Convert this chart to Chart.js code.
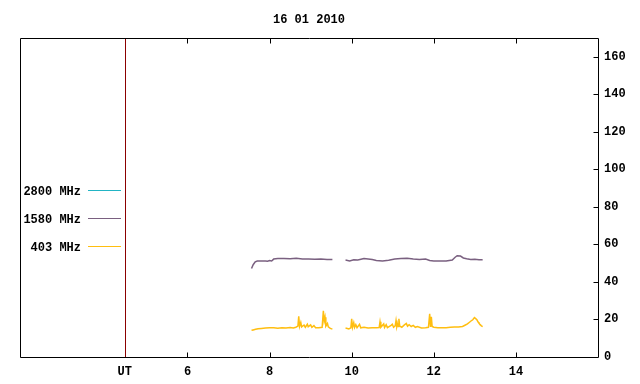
<!DOCTYPE html>
<html>
<head>
<meta charset="utf-8">
<script src="https://cdn.jsdelivr.net/npm/chart.js@4"></script>
<style>
  html, body { margin: 0; padding: 0; background: #ffffff; }
  #wrap { width: 640px; height: 384px; }
</style>
</head>
<body>
<div id="wrap"><canvas id="c" width="640" height="384"></canvas></div>
<script>
// ---- data ----
const chartTitle = '16 01 2010';
const seriesLabels = ['2800 MHz', '1580 MHz', '403 MHz'];
const seriesColors = ['#22b4c4', '#7a6080', '#ffbe10'];

const hours2800 = [];
const values2800 = [];

const hours1580 = [7.56, 7.6, 7.65, 7.7, 7.8, 7.9, 7.95, 8.0, 8.05, 8.1, 8.2, 8.35, 8.5, 8.65, 8.8, 8.95, 9.1, 9.25, 9.4, 9.53,
  9.7,
  9.85, 9.95, 10.05, 10.15, 10.3, 10.4, 10.5, 10.6, 10.75, 10.9, 11.05, 11.2, 11.35, 11.5, 11.65, 11.8, 11.9, 12.0, 12.15,
  12.3, 12.45, 12.52, 12.57, 12.65, 12.72, 12.8, 12.9, 13.0, 13.1, 13.19];
const values1580 = [47.0, 49.0, 50.5, 51.0, 51.0, 51.0, 50.8, 51.2, 51.0, 52.0, 52.3, 52.3, 52.2, 52.4, 52.0, 52.1, 51.9, 52.0, 51.8, 51.8,
  null,
  51.5, 51.0, 51.6, 51.5, 52.3, 52.1, 51.8, 51.3, 51.0, 51.4, 52.0, 52.3, 52.4, 52.0, 51.8, 52.0, 51.2, 51.0, 51.0,
  51.0, 51.5, 53.0, 53.8, 53.6, 52.6, 52.2, 51.8, 51.9, 51.6, 51.7];

const hours403 = [7.56, 7.6, 7.66, 7.72, 7.8, 7.9, 8.0, 8.1, 8.2, 8.3, 8.4, 8.5, 8.58, 8.64, 8.69, 8.71, 8.73, 8.76, 8.78, 8.84,
  8.87, 8.92, 8.94, 9.0, 9.03, 9.08, 9.12, 9.2, 9.28, 9.31, 9.33, 9.35, 9.37, 9.41, 9.43, 9.48, 9.53,
  9.7,
  9.85, 9.93, 9.98, 10.0, 10.02, 10.05, 10.07, 10.1, 10.13, 10.19, 10.22, 10.3, 10.4, 10.5, 10.6, 10.67, 10.69, 10.71,
  10.78, 10.8, 10.84, 10.87, 10.93, 10.96, 10.99, 11.02, 11.06, 11.08, 11.1, 11.12, 11.14, 11.15, 11.17, 11.22, 11.27,
  11.33, 11.36, 11.4, 11.45, 11.5, 11.55, 11.6, 11.7, 11.8, 11.87, 11.9, 11.92, 11.94, 11.96, 12.0, 12.1, 12.2, 12.3,
  12.4, 12.5, 12.6, 12.7, 12.77, 12.82, 12.87, 12.92, 12.95, 12.99, 13.02, 13.05, 13.08, 13.1, 13.13, 13.16, 13.19];
const values403 = [14.0, 14.2, 14.5, 14.8, 15.0, 15.2, 15.3, 15.3, 15.1, 15.4, 15.2, 15.5, 15.2, 15.6, 16.2, 21.4, 16.0, 18.2, 15.8, 16.8,
  15.6, 17.2, 15.9, 16.9, 15.6, 16.5, 15.4, 15.3, 15.6, 24.4, 19.0, 21.0, 16.2, 17.6, 15.8, 15.0, 14.6,
  null,
  15.2, 14.7, 15.3, 20.1, 15.6, 18.0, 15.5, 17.0, 15.4, 17.2, 15.3, 15.6, 15.2, 15.3, 15.4, 15.5, 18.5, 15.6,
  17.4, 15.5, 17.0, 15.4, 16.2, 16.6, 17.2, 15.6, 16.4, 19.2, 15.8, 17.2, 16.0, 20.1, 16.2, 15.6, 16.6,
  17.6, 16.2, 17.0, 16.0, 16.6, 15.6, 16.0, 15.2, 15.4, 15.6, 22.8, 15.8, 21.2, 16.0, 15.6, 15.4, 15.3, 15.4,
  15.6, 15.8, 15.7, 16.0, 16.8, 17.4, 18.3, 19.2, 19.6, 20.8, 20.2, 19.6, 18.4, 17.8, 17.0, 16.4, 16.0];

const xTickValues = [4.47, 6, 8, 10, 12, 14];
const xTickLabels = ['UT', '6', '8', '10', '12', '14'];
const yTickValues = [0, 20, 40, 60, 80, 100, 120, 140, 160];
const xMin = 1.92, xMax = 16, yMin = 0, yMax = 170;
const utHour = 4.47;

// ---- chart ----
const FONT = { family: "'Liberation Mono', 'DejaVu Sans Mono', monospace", size: 12, weight: 'bold' };
const toPoints = (xs, ys) => xs.map((x, i) => ({ x: x, y: ys[i] }));

const frameAndLegend = {
  id: 'frameAndLegend',
  afterDatasetsDraw(chart) {
    const ctx = chart.ctx;
    const a = chart.chartArea;
    const xs = chart.scales.x, ys = chart.scales.y;
    const L = Math.round(a.left) + 0.5, R = Math.round(a.right) + 0.5;
    const T = Math.round(a.top) + 0.5, B = Math.round(a.bottom) + 0.5;
    ctx.save();
    // frame
    ctx.strokeStyle = '#000000';
    ctx.lineWidth = 1;
    ctx.beginPath();
    ctx.rect(L, T, R - L, B - T);
    ctx.stroke();
    // UT separator line
    const ux = Math.round(xs.getPixelForValue(utHour)) + 0.5;
    ctx.strokeStyle = '#8b0000';
    ctx.beginPath(); ctx.moveTo(ux, T + 0.5); ctx.lineTo(ux, B - 0.5); ctx.stroke();
    // inward ticks
    ctx.strokeStyle = '#000000';
    ctx.beginPath();
    xTickValues.forEach(v => {
      if (v === utHour) return;
      const px = Math.round(xs.getPixelForValue(v)) + 0.5;
      ctx.moveTo(px, B); ctx.lineTo(px, B - 5);
      ctx.moveTo(px, T); ctx.lineTo(px, T + 5);
    });
    yTickValues.forEach(v => {
      if (v === 0) return;
      const py = Math.round(ys.getPixelForValue(v)) + 0.5;
      ctx.moveTo(R, py); ctx.lineTo(R - 5, py);
    });
    ctx.stroke();
    // title
    ctx.fillStyle = '#000000';
    ctx.font = `${FONT.weight} ${FONT.size}px ${FONT.family}`;
    ctx.textAlign = 'center'; ctx.textBaseline = 'middle';
    ctx.fillText(chartTitle, (a.left + a.right) / 2, 19.5);
    // legend (inside the left box)
    ctx.textAlign = 'right';
    chart.data.datasets.forEach((ds, i) => {
      const y = 192 + i * 28;
      ctx.fillStyle = '#000000';
      ctx.fillText(ds.label, 81, y);
      ctx.strokeStyle = ds.borderColor;
      ctx.beginPath(); ctx.moveTo(88, Math.round(y) - 1.5); ctx.lineTo(121, Math.round(y) - 1.5); ctx.stroke();
    });
    ctx.restore();
  }
};

new Chart(document.getElementById('c'), {
  type: 'line',
  data: {
    datasets: [
      { label: seriesLabels[0], data: toPoints(hours2800, values2800), borderColor: seriesColors[0] },
      { label: seriesLabels[1], data: toPoints(hours1580, values1580), borderColor: seriesColors[1] },
      { label: seriesLabels[2], data: toPoints(hours403, values403), borderColor: seriesColors[2] }
    ].map(d => Object.assign(d, { borderWidth: 1.5, pointRadius: 0, tension: 0, spanGaps: false, fill: false }))
  },
  options: {
    responsive: false,
    animation: false,
    devicePixelRatio: 1,
    layout: { padding: { left: 20, top: 38, right: 0, bottom: 0 } },
    plugins: { legend: { display: false }, title: { display: false }, tooltip: { enabled: false } },
    scales: {
      x: {
        type: 'linear', min: xMin, max: xMax,
        afterBuildTicks: s => { s.ticks = xTickValues.map(v => ({ value: v })); },
        afterFit: s => { s.height = 27.5; },
        grid: { display: false, drawTicks: false },
        border: { display: false },
        ticks: {
          autoSkip: false, maxRotation: 0, padding: 8, color: '#000000', font: FONT,
          callback: (v, i) => xTickLabels[i]
        }
      },
      y: {
        type: 'linear', position: 'right', min: yMin, max: yMax,
        afterBuildTicks: s => { s.ticks = yTickValues.map(v => ({ value: v })); },
        afterFit: s => { s.width = 42; },
        grid: { display: false, drawTicks: false },
        border: { display: false },
        ticks: { padding: 6, color: '#000000', font: FONT, callback: v => String(v) }
      }
    }
  },
  plugins: [frameAndLegend]
});
</script>
</body>
</html>
